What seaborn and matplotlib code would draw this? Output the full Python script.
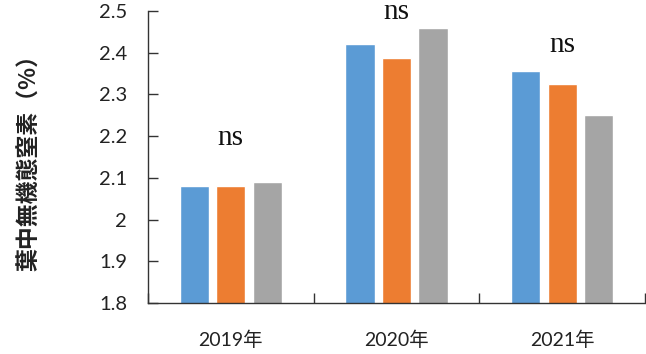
import matplotlib
matplotlib.use("Agg")
import matplotlib.pyplot as plt
import seaborn as sns
import pandas as pd
import numpy as np

# Data
years = ["2019年", "2020年", "2021年"]
treatments = ["T1", "T2", "T3"]
values_t1 = [2.08, 2.42, 2.355]
values_t2 = [2.08, 2.388, 2.325]
values_t3 = [2.09, 2.46, 2.25]
sig_labels = ["ns", "ns", "ns"]
sig_heights = [2.195, 2.497, 2.418]
y_ticks = [1.8, 1.9, 2.0, 2.1, 2.2, 2.3, 2.4, 2.5]
y_label = "葉中無機態窒素（%）"

colors = ["#5B9BD5", "#ED7D31", "#A5A5A5"]

df = pd.DataFrame({
    "year": np.repeat(years, 3),
    "treatment": treatments * 3,
    "value": [v for trio in zip(values_t1, values_t2, values_t3) for v in trio],
})

sns.set_theme(style="white")
plt.rcParams["font.family"] = ["Lato", "Noto Sans CJK JP", "DejaVu Sans"]

fig = plt.figure(figsize=(6.46, 3.54), dpi=100)
ax = fig.add_axes([0.229, 0.144, 0.7695, 0.825])

sns.barplot(data=df, x="year", y="value", hue="treatment", palette=colors,
            width=0.66, gap=0.2, ax=ax, legend=False, errorbar=None,
            saturation=1)

ax.set_ylim(1.8, 2.5)
ax.set_xlim(-0.5, 2.5)
ax.set_yticks(y_ticks)
ax.set_yticklabels([f"{t:g}" for t in y_ticks], fontsize=14.5, color="#222222")
ax.set_xticks([-0.5, 0.5, 1.5, 2.5], minor=False)
ax.set_xticklabels([])
ax.set_xticks(range(len(years)), minor=True)
ax.set_xticklabels(years, minor=True, fontsize=14, color="#222222")
ax.tick_params(axis="x", which="major", bottom=True, direction="in", length=7,
               width=1, color="#333333")
ax.tick_params(axis="x", which="minor", bottom=True, length=0, pad=20)
ax.tick_params(axis="y", left=True, direction="in", length=7, width=1,
               color="#333333", pad=15)

for side in ["top", "right"]:
    ax.spines[side].set_visible(False)
for side in ["left", "bottom"]:
    ax.spines[side].set_color("#333333")
    ax.spines[side].set_linewidth(1)

ax.set_xlabel("")
ax.set_ylabel(y_label, fontsize=16.5, fontweight="bold", color="#222222",
              family=["Noto Sans CJK JP", "DejaVu Sans"])
ax.yaxis.set_label_coords(-0.214, 0.5)

for i, (lab, h) in enumerate(zip(sig_labels, sig_heights)):
    ax.text(i, h, lab, ha="center", va="center", fontsize=21,
            family="Liberation Serif", color="#111111", clip_on=False)

fig.savefig("out.png", dpi=100)
